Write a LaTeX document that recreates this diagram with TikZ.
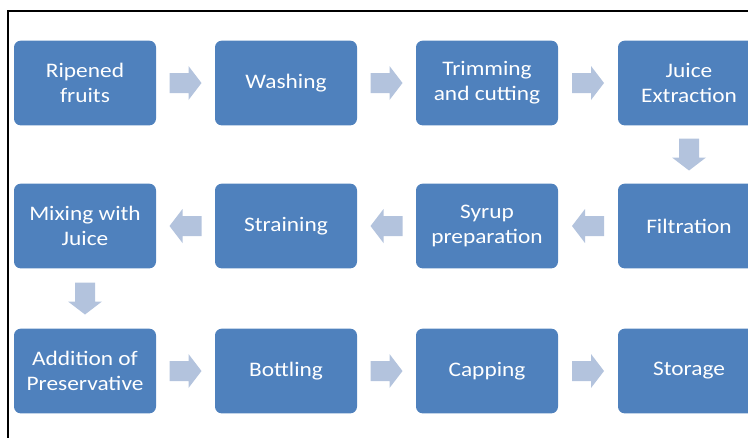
\documentclass[tikz,border=0pt]{standalone}
\usepackage{fontspec}
\newfontfamily\stepfont{Carlito}[FakeStretch=1.13]
\usetikzlibrary{calc}
\definecolor{BoxBlue}{HTML}{4F81BD}
\definecolor{ArrowBlue}{HTML}{B3C3DD}
\tikzset{
  procbox/.style={fill=BoxBlue,rounded corners=5pt,minimum width=106.5pt,
    minimum height=63.5pt,inner sep=2pt,align=center,text=white,
    font=\stepfont\fontsize{15.5}{18.75}\selectfont},
  flowarrow/.pic={\fill[ArrowBlue] (-16,-10) -- (3,-10) -- (3,-17) -- (16,0)
    -- (3,17) -- (3,10) -- (-16,10) -- cycle;}
}
\begin{document}
\begin{tikzpicture}[x=0.75pt,y=-0.75pt]
    \useasboundingbox (0,0) rectangle (748,437);
    \clip (0,0) rectangle (748,437);
    \draw[line width=1.1pt] (8,445) -- (8,11) -- (755,11);
    % first row
    \node[procbox] (ripe) at (85,83) {Ripened\\fruits};
    \node[procbox] (wash) at (286,83) {Washing};
    \node[procbox] (trim) at (487,83) {Trimming\\and cutting};
    \node[procbox] (juice) at (689,83) {Juice\\Extraction};
    % second row, right to left
    \node[procbox] (filt) at (689,226) {Filtration};
    \node[procbox] (syrup) at (487,226) {Syrup\\preparation};
    \node[procbox] (strain) at (286,226) {Straining};
    \node[procbox] (mix) at (85,226) {Mixing with\\Juice};
    % third row
    \node[procbox] (pres) at (85,371) {Addition of\\Preservative};
    \node[procbox] (bottle) at (286,371) {Bottling};
    \node[procbox] (cap) at (487,371) {Capping};
    \node[procbox] (store) at (689,371) {Storage};
    % block arrows
    \pic at ($(ripe.east)!0.5!(wash.west)$) {flowarrow};
    \pic at ($(wash.east)!0.5!(trim.west)$) {flowarrow};
    \pic at ($(trim.east)!0.5!(juice.west)$) {flowarrow};
    \pic[rotate=-90] at ($(juice.south)!0.5!(filt.north)$) {flowarrow};
    \pic[rotate=180] at ($(filt.west)!0.5!(syrup.east)$) {flowarrow};
    \pic[rotate=180] at ($(syrup.west)!0.5!(strain.east)$) {flowarrow};
    \pic[rotate=180] at ($(strain.west)!0.5!(mix.east)$) {flowarrow};
    \pic[rotate=-90] at ($(mix.south)!0.5!(pres.north)$) {flowarrow};
    \pic at ($(pres.east)!0.5!(bottle.west)$) {flowarrow};
    \pic at ($(bottle.east)!0.5!(cap.west)$) {flowarrow};
    \pic at ($(cap.east)!0.5!(store.west)$) {flowarrow};
\end{tikzpicture}
\end{document}
